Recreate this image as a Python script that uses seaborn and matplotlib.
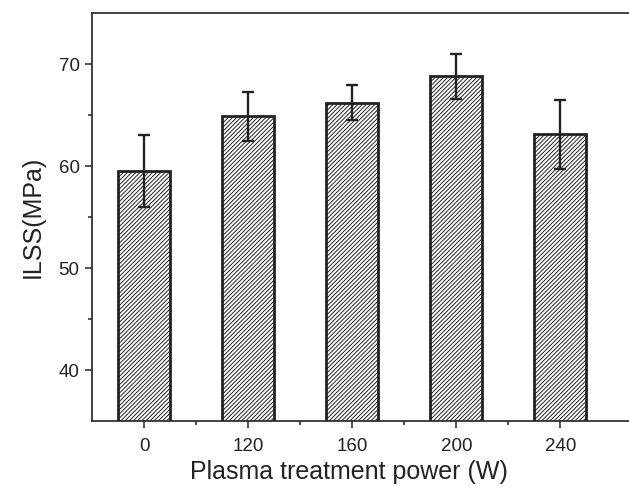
import pandas as pd
import matplotlib
matplotlib.use("Agg")
import matplotlib.pyplot as plt
import seaborn as sns
from matplotlib.ticker import FixedLocator

# data
power = ["0", "120", "160", "200", "240"]
ilss = [59.5, 64.9, 66.2, 68.8, 63.1]
ilss_err = [3.5, 2.4, 1.7, 2.2, 3.4]

df = pd.DataFrame({"power": power, "ilss": ilss})

sns.set_style("ticks")
plt.rcParams["font.family"] = ["Liberation Sans", "DejaVu Sans"]
plt.rcParams["hatch.linewidth"] = 0.7
plt.rcParams["hatch.color"] = "#3a3a3a"

ink = "#222222"

fig = plt.figure(figsize=(6.29, 4.87), dpi=100)
ax = fig.add_axes([0.1463, 0.1355, 0.8537, 0.8378])

sns.barplot(data=df, x="power", y="ilss", order=power, errorbar=None,
            width=0.5, color="white", edgecolor=ink, linewidth=2.0,
            hatch="////////", ax=ax)

# error bars at the categorical positions
xs = range(len(power))
ax.errorbar(xs, ilss, yerr=ilss_err, fmt="none", ecolor=ink,
            elinewidth=1.7, capsize=4, capthick=1.7)

ax.set_ylim(35, 75)
ax.set_xlim(-0.5, 4.66)
ax.yaxis.set_major_locator(FixedLocator([40, 50, 60, 70]))
ax.yaxis.set_minor_locator(FixedLocator([45, 55, 65]))
ax.xaxis.set_minor_locator(FixedLocator([0.5, 1.5, 2.5, 3.5]))

for side in ["left", "bottom", "top"]:
    ax.spines[side].set_color(ink)
    ax.spines[side].set_linewidth(1.2)
ax.spines["right"].set_visible(False)

ax.tick_params(axis="both", which="major", direction="out", length=5,
               width=1.1, color=ink, labelsize=13.5, labelcolor=ink, pad=4)
ax.tick_params(axis="both", which="minor", direction="out", length=3,
               width=1.1, color=ink)
ax.tick_params(axis="x", which="major", pad=7)

ax.set_xlabel("Plasma treatment power (W)", fontsize=18, color=ink)
ax.set_ylabel("ILSS(MPa)", fontsize=18, color=ink, labelpad=10)
ax.xaxis.set_label_coords(0.479, -0.095)

fig.savefig("out.png", dpi=100)
